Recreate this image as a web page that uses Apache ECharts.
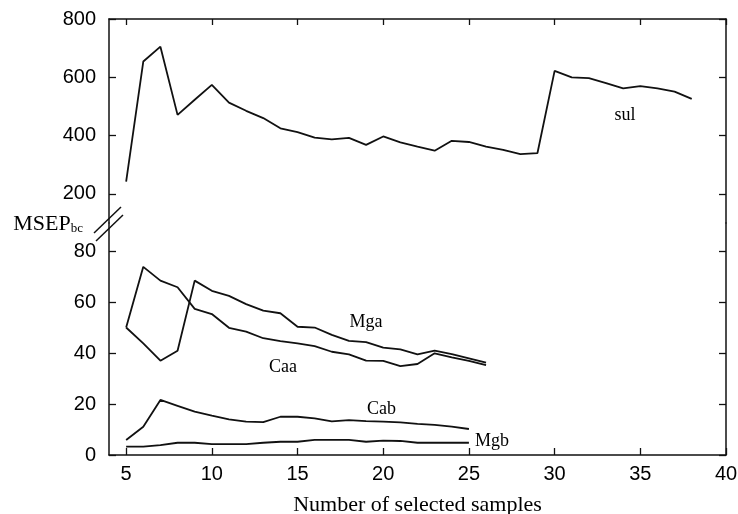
<!DOCTYPE html>
<html>
<head>
<meta charset="utf-8">
<script src="https://cdn.jsdelivr.net/npm/echarts@6/dist/echarts.min.js"></script>
<style>
  html, body { margin: 0; padding: 0; background: #fff; }
  #chart { width: 738px; height: 514px; }
</style>
</head>
<body>
<div id="chart"></div>
<script>
// Number of selected samples for each curve
const samplesSul = [5,6,7,8,9,10,11,12,13,14,15,16,17,18,19,20,21,22,23,24,25,26,27,28,29,30,31,32,33,34,35,36,37,38];
const samplesA = [5,6,7,8,9,10,11,12,13,14,15,16,17,18,19,20,21,22,23,24,25,26];
const samplesB = [5,6,7,8,9,10,11,12,13,14,15,16,17,18,19,20,21,22,23,24,25];

// MSEP_bc values
const sul = [242,654,705,471,523,574,513,485,460,425,412,393,387,392,368,397,377,362,348,382,378,362,351,336,340,622,600,597,580,562,570,562,551,526];
const mga = [50,43.8,37,40.9,68.4,64.4,62.4,59.2,56.6,55.6,50.3,50,47.1,44.8,44.3,42.1,41.4,39.5,40.9,39.6,37.9,36.2];
const caa = [50,73.8,68.4,65.8,57.3,55.3,49.9,48.4,45.8,44.7,43.8,42.7,40.5,39.5,37,36.9,34.9,35.7,39.9,38.3,36.9,35.3];
const cab = [5.9,11.1,21.6,19.3,17,15.4,14,13.1,12.9,15,15,14.4,13.2,13.7,13.3,13.1,12.8,12.2,11.8,11.1,10.2];
const mgb = [3.3,3.3,3.9,4.8,4.8,4.3,4.3,4.3,4.8,5.2,5.2,5.9,5.9,5.9,5.2,5.6,5.5,4.8,4.8,4.8,4.8];

// Tick labels
const xTicks = [5,10,15,20,25,30,35,40];
const upperTicks = [200,400,600,800];
const lowerTicks = [0,20,40,60,80];

// Curve name labels: [x, y, text, panel]
const curveLabels = [
  [34.1, 471, 'sul', 0],
  [19.0, 52.2, 'Mga', 1],
  [14.15, 34.5, 'Caa', 1],
  [19.9, 18.0, 'Cab', 1],
  [26.35, 5.5, 'Mgb', 1]
];

const pairs = (xs, ys) => xs.map((x, i) => [x, ys[i]]);

const sans = 'Liberation Sans, Arial, sans-serif';
const serif = 'Liberation Serif, Times New Roman, serif';
const ink = '#111';
const axisLine = { show: true, lineStyle: { color: ink, width: 1.5 } };

function yAxisPair(gridIndex, min, max, ticks) {
  return [
    {
      type: 'value', gridIndex, min, max, position: 'left',
      axisLine,
      axisTick: { show: true, inside: true, length: 7, customValues: ticks, lineStyle: { color: ink, width: 1.3 } },
      axisLabel: { show: true, customValues: ticks, margin: 13, color: '#000', fontFamily: sans, fontSize: 20 },
      splitLine: { show: false }
    },
    {
      type: 'value', gridIndex, min, max, position: 'right',
      axisLine,
      axisTick: { show: true, inside: true, length: 7, customValues: ticks, lineStyle: { color: ink, width: 1.3 } },
      axisLabel: { show: false },
      splitLine: { show: false }
    }
  ];
}

function lineSeries(name, xs, ys, xi, yi) {
  return {
    name, type: 'line', xAxisIndex: xi, yAxisIndex: yi,
    data: pairs(xs, ys),
    showSymbol: false, symbol: 'none',
    lineStyle: { color: ink, width: 1.8 },
    animation: false, silent: true
  };
}

function labelSeries(panel, xi, yi) {
  return {
    type: 'scatter', xAxisIndex: xi, yAxisIndex: yi,
    symbolSize: 0, animation: false, silent: true,
    itemStyle: { opacity: 1, color: '#000' },
    data: curveLabels.filter(l => l[3] === panel).map(l => ({ value: [l[0], l[1]], name: l[2] })),
    label: {
      show: true, position: 'inside', formatter: p => p.name, opacity: 1,
      color: '#000', textBorderWidth: 0, fontFamily: serif, fontSize: 18
    }
  };
}

const chart = echarts.init(document.getElementById('chart'), null, { renderer: 'canvas' });

chart.setOption({
  backgroundColor: '#fff',
  animation: false,
  grid: [
    { left: 109, right: 12, top: 19, height: 204, outerBoundsMode: 'none', containLabel: false },
    { left: 109, right: 12, top: 223, height: 232, outerBoundsMode: 'none', containLabel: false }
  ],
  xAxis: [
    {
      type: 'value', gridIndex: 0, min: 4, max: 40, position: 'top',
      axisLine,
      axisTick: { show: true, inside: true, length: 6, customValues: xTicks, lineStyle: { color: ink, width: 1.3 } },
      axisLabel: { show: false },
      splitLine: { show: false }
    },
    {
      type: 'value', gridIndex: 1, min: 4, max: 40, position: 'bottom',
      axisLine,
      axisTick: { show: true, inside: true, length: 7, customValues: xTicks, lineStyle: { color: ink, width: 1.3 } },
      axisLabel: { show: true, customValues: xTicks, margin: 9, color: '#000', fontFamily: sans, fontSize: 20 },
      splitLine: { show: false },
      name: 'Number of selected samples',
      nameLocation: 'middle', nameGap: 39,
      nameTextStyle: { color: '#000', fontFamily: serif, fontSize: 22 }
    }
  ],
  yAxis: [
    ...yAxisPair(0, 100, 800, upperTicks),
    ...yAxisPair(1, 0, 91, lowerTicks)
  ],
  series: [
    lineSeries('sul', samplesSul, sul, 0, 0),
    lineSeries('Mga', samplesA, mga, 1, 2),
    lineSeries('Caa', samplesA, caa, 1, 2),
    lineSeries('Cab', samplesB, cab, 1, 2),
    lineSeries('Mgb', samplesB, mgb, 1, 2),
    labelSeries(0, 0, 0),
    labelSeries(1, 1, 2)
  ],
  graphic: [
    // axis break marks on the left frame
    { type: 'line', shape: { x1: 94, y1: 233, x2: 121, y2: 207 }, style: { stroke: ink, lineWidth: 1.5 }, z: 10 },
    { type: 'line', shape: { x1: 96, y1: 241, x2: 123, y2: 215 }, style: { stroke: ink, lineWidth: 1.5 }, z: 10 },
    {
      type: 'text', right: 738 - 83, top: 213, z: 10,
      style: {
        text: '{m|MSEP}{s|bc}',
        rich: {
          m: { fontFamily: serif, fontSize: 22, fill: '#000', verticalAlign: 'bottom' },
          s: { fontFamily: serif, fontSize: 13, fill: '#000', verticalAlign: 'bottom' }
        }
      }
    }
  ]
});
</script>
</body>
</html>
